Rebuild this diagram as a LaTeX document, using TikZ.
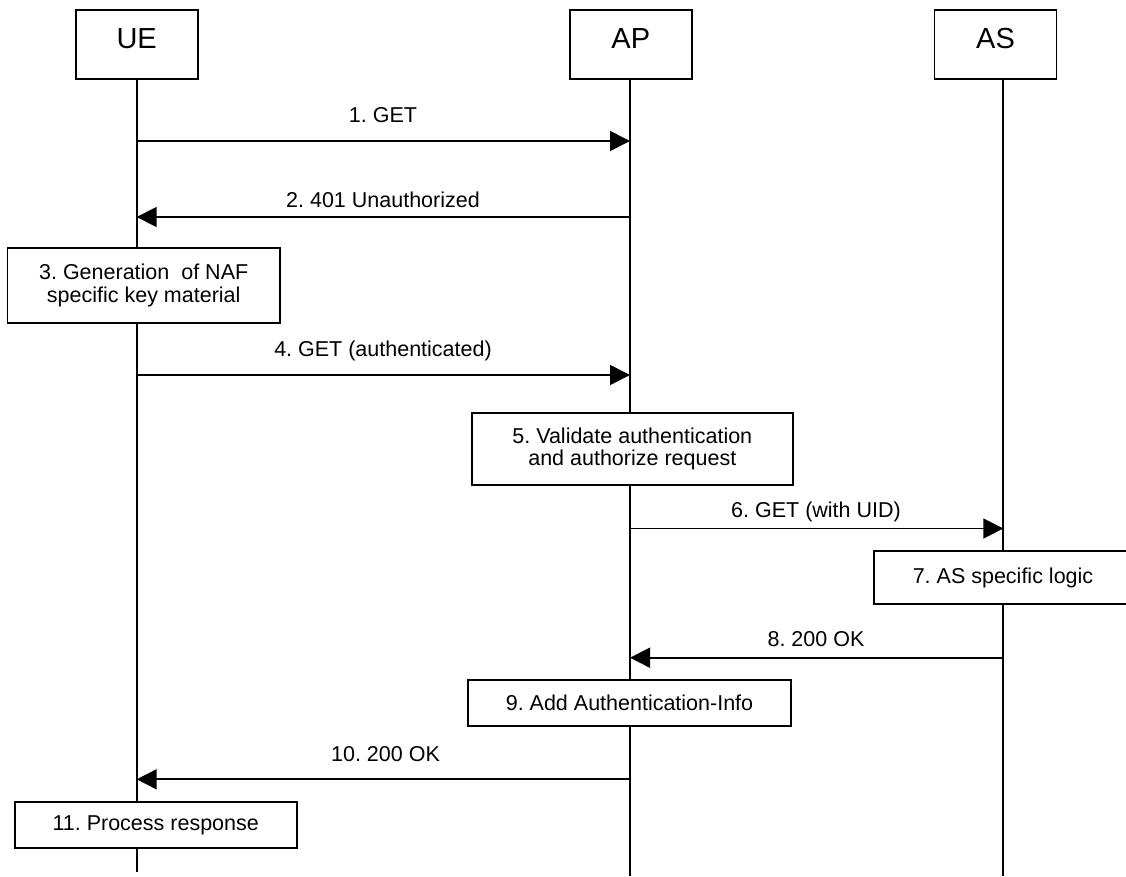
\documentclass[tikz,border=0pt]{standalone}
\usepackage{fontspec}
\setmainfont{Liberation Sans}
\usetikzlibrary{arrows.meta}
\frenchspacing
\begin{document}
\begin{tikzpicture}[x=1pt,y=-1pt,
  every node/.style={inner sep=0pt, outer sep=0pt},
  entity/.style={draw, line width=1.7pt, fill=white, minimum width=122pt, minimum height=69pt,
    font=\fontsize{29}{33}\selectfont\frenchspacing, text height=21pt, text depth=13pt},
  action/.style={draw, line width=1.7pt, fill=white, align=center,
    font=\fontsize{21.5}{22.5}\selectfont\frenchspacing},
  lifeline/.style={line width=1.7pt},
  msg/.style={line width=1.7pt, -{Triangle[length=20pt,width=20pt]}},
  msglabel/.style={anchor=base, font=\fontsize{21.5}{22.5}\selectfont\frenchspacing}]
\useasboundingbox (0,0) rectangle (1126,876);
% entities
\node[entity] (UE) at (136.7,44.5) {UE};
\node[entity] (AP) at (630.8,44.5) {AP};
\node[entity] (AS) at (995.5,44.5) {AS};
% lifelines
\coordinate (ueT) at (136.7,79);
\coordinate (ueB) at (136.7,871.7);
\coordinate (apT) at (630,79);
\coordinate (apB) at (630,876);
\coordinate (asT) at (1003.3,79);
\coordinate (asB) at (1003.3,876);
\draw[lifeline] (ueT) -- (ueB);
\draw[lifeline] (apT) -- (apB);
\draw[lifeline] (asT) -- (asB);
% message rows
\coordinate (m1) at (0,141);
\coordinate (m2) at (0,217);
\coordinate (m4) at (0,375);
\coordinate (m6) at (0,528.5);
\coordinate (m8) at (0,657.7);
\coordinate (m10) at (0,779.3);
% messages
\draw[msg] (ueT |- m1) -- (apT |- m1);
\node[msglabel] (l1) at (383,122.3) {1. GET};
\draw[msg] (apT |- m2) -- (ueT |- m2);
\node[msglabel] (l2) at (383,207.3) {2. 401 Unauthorized};
\draw[msg] (ueT |- m4) -- (apT |- m4);
\node[msglabel] (l4) at (383,356) {4. GET (authenticated)};
\draw[msg] (apT |- m6) -- (asT |- m6);
\node[msglabel] (l6) at (816,517.3) {6. GET (with UID)};
\draw[msg] (asT |- m8) -- (apT |- m8);
\node[msglabel] (l8) at (816,646.7) {8. 200 OK};
\draw[msg] (apT |- m10) -- (ueT |- m10);
\node[msglabel] (l10) at (385.5,761.7) {10. 200 OK};
% action boxes
\node[action, minimum width=272.7pt, minimum height=74.7pt] (b3) at (143.7,285.3) {3. Generation\ \ of NAF\\specific key material};
\node[action, minimum width=321.3pt, minimum height=72pt] (b5) at (632.3,449) {5. Validate authentication\\and authorize request};
\node[action, minimum width=258pt, minimum height=53.6pt] (b7) at (1003,577.5) {7. AS specific logic};
\node[action, minimum width=323pt, minimum height=45.7pt] (b9) at (629.5,702.8) {9. Add Authentication-Info};
\node[action, minimum width=282pt, minimum height=46.6pt] (b11) at (155.7,825) {11. Process response};
\end{tikzpicture}
\end{document}
